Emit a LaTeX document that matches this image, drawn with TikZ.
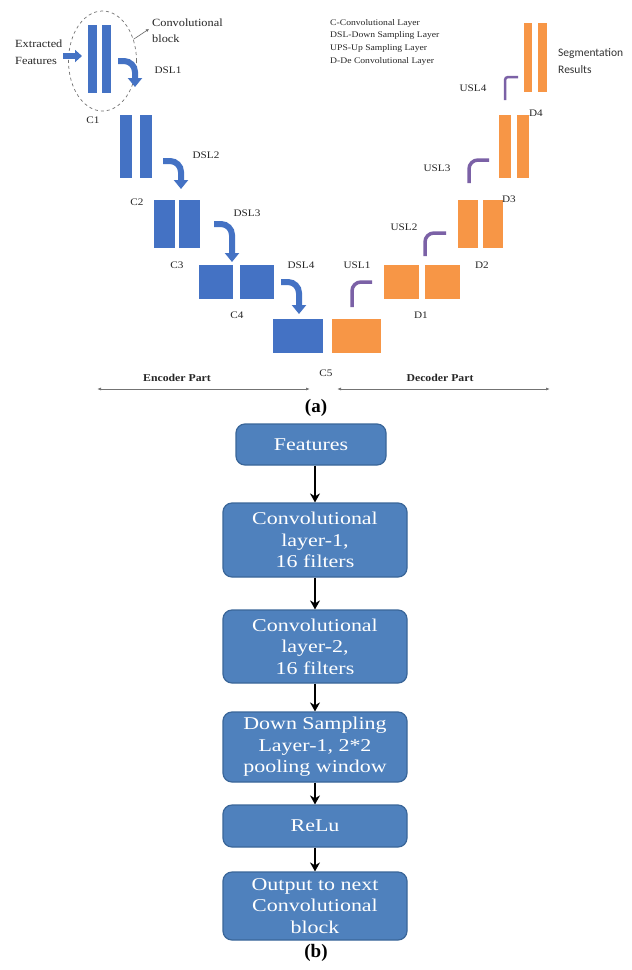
\documentclass[tikz,border=0pt]{standalone}
\usepackage{fontspec}
\setmainfont{Liberation Serif}
\newfontfamily\boxfont[FakeStretch=1.22]{Liberation Serif}
\newfontfamily\smallfont[FakeStretch=1.12]{Liberation Serif}
\newfontfamily\calfont{Carlito}
\usetikzlibrary{arrows.meta,shapes.geometric}
\definecolor{encblue}{HTML}{4472C4}
\definecolor{decorange}{HTML}{F79646}
\definecolor{uspurple}{HTML}{7B61A6}
\definecolor{boxblue}{HTML}{4F81BD}
\definecolor{boxedge}{HTML}{3A6699}
\begin{document}
\begin{tikzpicture}[x=1pt,y=-1pt,
  blk/.style={rectangle, inner sep=0pt, outer sep=0pt},
  enc/.style={blk, fill=encblue},
  dec/.style={blk, fill=decorange},
  lbl/.style={font=\smallfont\fontsize{10}{12}\selectfont, inner sep=0pt, text=black!85},
  dslarrow/.style={draw=encblue, line width=6pt, rounded corners=11pt, -{Triangle[width=14pt,length=9pt]}},
  uslarrow/.style={draw=uspurple, line width=3.5pt, rounded corners=9pt},
  stepbox/.style={rectangle, rounded corners=9pt, fill=boxblue, draw=boxedge, line width=1.2pt, text=white,
    font=\boxfont\fontsize{18}{21.5}\selectfont, align=center, minimum width=184pt, inner sep=2pt},
  flow/.style={-{Stealth[length=9pt,width=10pt]}, line width=2pt, black},
  partline/.style={draw=black!55, line width=0.8pt, {Latex[length=4pt,width=3pt]}-{Latex[length=4pt,width=3pt]}}]
\useasboundingbox (0,0) rectangle (632,970);
\fill[white] (0,0) rectangle (632,970);

% ---------------- (a) encoder ----------------
\node[enc, minimum width=9pt, minimum height=68pt] (c1a) at (92.5,59) {};
\node[enc, minimum width=9pt, minimum height=68pt] (c1b) at (106.5,59) {};
\node[enc, minimum width=12pt, minimum height=63pt] (c2a) at (126,146.5) {};
\node[enc, minimum width=12pt, minimum height=63pt] (c2b) at (146,146.5) {};
\node[enc, minimum width=21pt, minimum height=48pt] (c3a) at (164.5,224) {};
\node[enc, minimum width=21pt, minimum height=48pt] (c3b) at (189.5,224) {};
\node[enc, minimum width=34pt, minimum height=34pt] (c4a) at (216,282) {};
\node[enc, minimum width=34pt, minimum height=34pt] (c4b) at (257,282) {};
\node[enc, minimum width=50pt, minimum height=34pt] (c5a) at (298,336) {};
% ---------------- decoder ----------------
\node[dec, minimum width=49pt, minimum height=34pt] (c5b) at (356.5,336) {};
\node[dec, minimum width=35pt, minimum height=34pt] (d1a) at (401.5,282) {};
\node[dec, minimum width=35pt, minimum height=34pt] (d1b) at (442,282) {};
\node[dec, minimum width=20pt, minimum height=48pt] (d2a) at (468,224) {};
\node[dec, minimum width=20pt, minimum height=48pt] (d2b) at (493,224) {};
\node[dec, minimum width=12pt, minimum height=63pt] (d3a) at (505,146.5) {};
\node[dec, minimum width=12pt, minimum height=63pt] (d3b) at (523,146.5) {};
\node[dec, minimum width=8.5pt, minimum height=69pt] (d4a) at (528,57.5) {};
\node[dec, minimum width=8.5pt, minimum height=69pt] (d4b) at (542.5,57.5) {};

% convolutional block ellipse
\node[ellipse, draw=black!55, dashed, line width=0.7pt, minimum width=68pt, minimum height=100pt, inner sep=0pt] (cblk) at (102.5,61) {};
\node[lbl, font=\smallfont\fontsize{11}{16}\selectfont, align=left, anchor=west] (cbl) at (152,31) {Convolutional\\block};
\draw[black!60, line width=0.6pt, -{Latex[length=3pt,width=3pt]}] (cblk.35) -- ([xshift=-3pt,yshift=2pt]cbl.west);

% extracted features
\node[lbl, font=\smallfont\fontsize{11}{17}\selectfont, align=left, anchor=west] (ef) at (15,52) {Extracted\\Features};
\coordinate (efs) at (63,56);
\coordinate (efe) at (82,56);
\draw[encblue, line width=6pt, -{Triangle[width=12pt,length=7pt]}] (efs) -- (efe);

% legend
\node[lbl, font=\smallfont\fontsize{8.6}{12.7}\selectfont, align=left, anchor=north west] (legend) at (330,19)
  {C-Convolutional Layer\\DSL-Down Sampling Layer\\UPS-Up Sampling Layer\\D-De Convolutional Layer};

% segmentation results
\node[inner sep=0pt, font=\calfont\fontsize{11.5}{17}\selectfont, align=left, anchor=west, text=black!80] (seg) at (558,61.5) {Segmentation\\Results};

% down sampling arrows
\coordinate (s1) at (118,61);  \coordinate (k1) at (135,61);  \coordinate (t1) at (135,87);
\coordinate (s2) at (163,161); \coordinate (k2) at (181,161); \coordinate (t2) at (181,189);
\coordinate (s3) at (214,224); \coordinate (k3) at (232,224); \coordinate (t3) at (232,262);
\coordinate (s4) at (281,282); \coordinate (k4) at (299,282); \coordinate (t4) at (299,314);
\draw[dslarrow] (s1) -- (k1) -- (t1);
\draw[dslarrow] (s2) -- (k2) -- (t2);
\draw[dslarrow] (s3) -- (k3) -- (t3);
\draw[dslarrow] (s4) -- (k4) -- (t4);

% up sampling arrows
\coordinate (u1) at (352,307); \coordinate (v1) at (352,282); \coordinate (w1) at (372,282);
\coordinate (u2) at (425,256); \coordinate (v2) at (425,233); \coordinate (w2) at (446,233);
\coordinate (u3) at (469,183); \coordinate (v3) at (469,160); \coordinate (w3) at (489,160);
\coordinate (u4) at (505,100); \coordinate (v4) at (505,77);  \coordinate (w4) at (518,77);
\draw[uslarrow] (u1) -- (v1) -- (w1);
\draw[uslarrow] (u2) -- (v2) -- (w2);
\draw[uslarrow] (u3) -- (v3) -- (w3);
\draw[uslarrow, line width=2.5pt, rounded corners=3pt] (u4) -- (v4) -- (w4);

% labels
\node[lbl] (lc1) at (93,120) {C1};
\node[lbl] (lc2) at (137,202) {C2};
\node[lbl] (lc3) at (177,265) {C3};
\node[lbl] (lc4) at (237,315) {C4};
\node[lbl] (lc5) at (326,373) {C5};
\node[lbl] (ld1) at (421,315) {D1};
\node[lbl] (ld2) at (482,265) {D2};
\node[lbl] (ld3) at (509,199) {D3};
\node[lbl] (ld4) at (536,113) {D4};
\node[lbl] (ldsl1) at (168,70) {DSL1};
\node[lbl] (ldsl2) at (206,155) {DSL2};
\node[lbl] (ldsl3) at (247,213) {DSL3};
\node[lbl] (ldsl4) at (301,265) {DSL4};
\node[lbl] (lusl1) at (357,265) {USL1};
\node[lbl] (lusl2) at (404,227) {USL2};
\node[lbl] (lusl3) at (437,168) {USL3};
\node[lbl] (lusl4) at (473,88) {USL4};

% encoder / decoder parts
\node[lbl, font=\smallfont\bfseries\fontsize{10.5}{12}\selectfont] (encl) at (177,378) {Encoder Part};
\node[lbl, font=\smallfont\bfseries\fontsize{10.5}{12}\selectfont] (decl) at (440,378) {Decoder Part};
\coordinate (e1) at (97,389); \coordinate (e2) at (310,389);
\coordinate (f1) at (337,389); \coordinate (f2) at (550,389);
\draw[partline] (e1) -- (e2);
\draw[partline] (f1) -- (f2);

\node[font=\bfseries\fontsize{19}{21}\selectfont, inner sep=0pt] (capa) at (316,408) {(a)};

% ---------------- (b) flow chart ----------------
\node[stepbox, minimum width=150pt, minimum height=41pt] (feat) at (311,444.5) {Features};
\node[stepbox, minimum height=74pt] (cv1) at (315,540) {Convolutional\\layer-1,\\16 filters};
\node[stepbox, minimum height=73pt] (cv2) at (315,646.5) {Convolutional\\layer-2,\\16 filters};
\node[stepbox, minimum height=70pt] (dsl) at (315,747) {Down Sampling\\Layer-1, 2*2\\pooling window};
\node[stepbox, minimum height=42pt] (relu) at (315,826) {ReLu};
\node[stepbox, minimum height=68pt] (outb) at (315,906) {Output to next\\Convolutional\\block};

\draw[flow] (cv1.north |- feat.south) -- (cv1.north);
\draw[flow] (cv1.south) -- (cv2.north);
\draw[flow] (cv2.south) -- (dsl.north);
\draw[flow] (dsl.south) -- (relu.north);
\draw[flow] (relu.south) -- (outb.north);

\node[font=\bfseries\fontsize{19}{21}\selectfont, inner sep=0pt] (capb) at (316,953) {(b)};
\end{tikzpicture}
\end{document}
